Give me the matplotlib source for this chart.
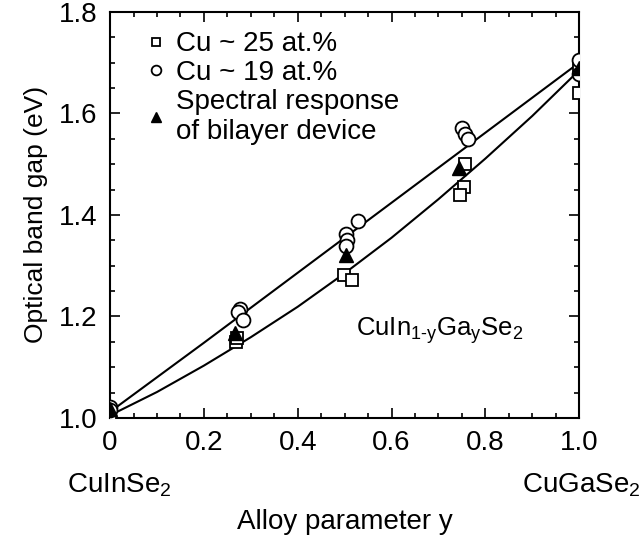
import numpy as np
import matplotlib
matplotlib.use("Agg")
import matplotlib.pyplot as plt
from matplotlib.ticker import MultipleLocator, FixedLocator, FixedFormatter

plt.rcParams.update({
    "font.family": "Liberation Sans",
    "mathtext.fontset": "custom",
    "mathtext.rm": "Liberation Sans",
    "mathtext.it": "Liberation Sans",
    "font.size": 19,
})

# -----------------------------
#  Data
# -----------------------------
# Cu ~ 25 at.% (squares)
y_sq = [0.0, 0.0, 0.268, 0.27, 0.498, 0.515, 0.757, 0.754, 0.746, 1.0, 1.0]
eg_sq = [1.000, 1.006, 1.149, 1.158, 1.282, 1.272, 1.500, 1.455, 1.440, 1.640, 1.685]

# Cu ~ 19 at.% (circles)
y_ci = [0.0, 0.0, 0.277, 0.272, 0.283, 0.502, 0.506, 0.502, 0.528, 0.751, 0.757, 0.762, 1.0, 1.0]
eg_ci = [1.022, 1.015, 1.214, 1.208, 1.192, 1.363, 1.351, 1.338, 1.388, 1.572, 1.560, 1.550, 1.705, 1.678]

# Spectral response of bilayer device (filled triangles)
y_tr = [0.0, 0.266, 0.502, 0.744, 1.0]
eg_tr = [1.018, 1.168, 1.320, 1.492, 1.690]

y_fit = [0.0, 0.1, 0.2, 0.3, 0.4, 0.5, 0.6, 0.7, 0.8, 0.9, 1.0]
eg_upper = [1.012, 1.080, 1.148, 1.217, 1.286, 1.355, 1.424, 1.493, 1.562, 1.631, 1.700]
eg_lower = [1.005, 1.051, 1.103, 1.159, 1.219, 1.285, 1.355, 1.431, 1.511, 1.595, 1.685]

x_ticks = [0, 0.2, 0.4, 0.6, 0.8, 1.0]
x_ticklabels = ["0", "0.2", "0.4", "0.6", "0.8", "1.0"]
y_ticks = [1.0, 1.2, 1.4, 1.6, 1.8]
y_ticklabels = ["1.0", "1.2", "1.4", "1.6", "1.8"]

# -----------------------------
#  Plot
# -----------------------------
fig = plt.figure(figsize=(6.4, 5.42), dpi=100)
ax = fig.add_axes([0.172, 0.229, 0.733, 0.749])

ax.plot(y_fit, eg_upper, color="black", lw=1.5, zorder=2)
ax.plot(y_fit, eg_lower, color="black", lw=1.5, zorder=2)

ax.plot(y_sq, eg_sq, ls="none", marker="s", ms=8, mfc="white", mec="black",
        mew=1.3, label="Cu ~ 25 at.%", zorder=3)
ax.plot(y_ci, eg_ci, ls="none", marker="o", ms=10, mfc="white", mec="black",
        mew=1.3, label="Cu ~ 19 at.%", zorder=4)
ax.plot(y_tr, eg_tr, ls="none", marker="^", ms=10, mfc="black", mec="black",
        label="Spectral response\nof bilayer device", zorder=5)

ax.set_xlim(0, 1.0)
ax.set_ylim(1.0, 1.8)

ax.xaxis.set_major_locator(FixedLocator(x_ticks))
ax.xaxis.set_major_formatter(FixedFormatter(x_ticklabels))
ax.yaxis.set_major_locator(FixedLocator(y_ticks))
ax.yaxis.set_major_formatter(FixedFormatter(y_ticklabels))
ax.xaxis.set_minor_locator(MultipleLocator(0.05))
ax.yaxis.set_minor_locator(MultipleLocator(0.05))
ax.tick_params(which="both", direction="in", top=True, right=True, width=1.2)
ax.tick_params(which="major", length=7, labelsize=20, pad=9)
ax.tick_params(which="minor", length=3.5)
for s in ax.spines.values():
    s.set_linewidth(1.5)

ax.set_ylabel("Optical band gap (eV)", fontsize=19, labelpad=8)
ax.set_xlabel("Alloy parameter y", fontsize=20, labelpad=38)

ax.text(0.02, -0.165, r"CuInSe$_2$", transform=ax.transAxes, ha="center",
        va="center", fontsize=20)
ax.text(1.005, -0.165, r"CuGaSe$_2$", transform=ax.transAxes, ha="center",
        va="center", fontsize=20)
ax.text(0.525, 1.172, r"CuIn$_{1\text{-}y}$Ga$_y$Se$_2$", fontsize=18.5,
        ha="left", va="center")

ax.legend(loc="upper left", frameon=False, fontsize=20, markerscale=0.7,
          handlelength=0.7, handletextpad=0.4, labelspacing=0.1,
          borderaxespad=0.3, bbox_to_anchor=(0.035, 1.0))

fig.savefig("out.png", dpi=100)
